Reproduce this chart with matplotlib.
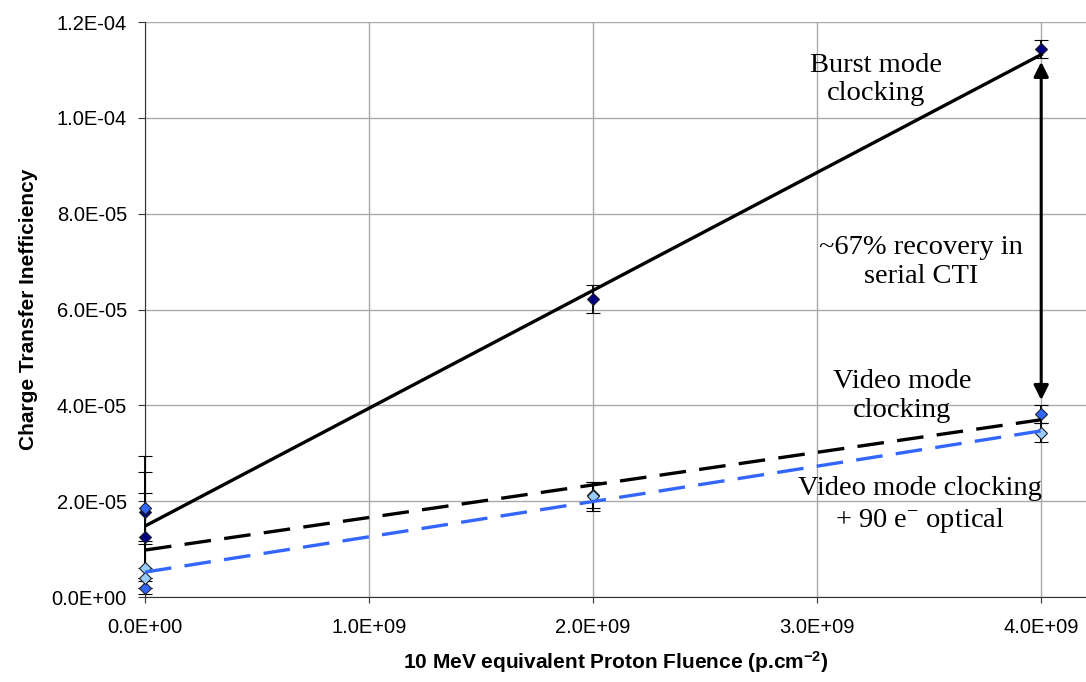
import matplotlib
matplotlib.use('Agg')
import matplotlib.pyplot as plt
import numpy as np
from matplotlib.ticker import FuncFormatter, MultipleLocator

plt.rcParams['font.family'] = ['Liberation Sans', 'DejaVu Sans']
plt.rcParams['mathtext.default'] = 'regular'

# measured CTI values (fluence in p/cm^2)
burst_x = [0, 0, 2e9, 4e9]
burst_y = [1.77e-5, 1.25e-5, 6.22e-5, 1.144e-4]
burst_err = [1.17e-5, 0.92e-5, 0.29e-5, 0.19e-5]

video_x = [0, 0, 2e9, 4e9]
video_y = [1.86e-5, 0.19e-5, 2.13e-5, 3.82e-5]
video_err = [0.75e-5, 0.0, 0.28e-5, 0.18e-5]

optical_x = [0, 0, 2e9, 4e9]
optical_y = [0.61e-5, 0.40e-5, 2.10e-5, 3.43e-5]
optical_err = [0.55e-5, 0.0, 0.30e-5, 0.20e-5]

# linear trend lines (slope, intercept) as shown on the chart
burst_fit = [2.46e-14, 1.48e-5]
video_fit = [6.8e-15, 0.98e-5]
optical_fit = [7.37e-15, 0.52e-5]
fit_range = [0, 4e9]

fig = plt.figure(figsize=(10.86, 6.82), dpi=100)
ax = fig.add_axes([0.1335, 0.1246, 0.8665, 0.8431])

def plot_series(x, y, err, face):
    cont = ax.errorbar(x, y, yerr=err, fmt='D', color='black', ecolor='black', elinewidth=1.3,
                       capsize=5, capthick=1.3, markersize=6, markerfacecolor=face,
                       markeredgecolor='#222222', markeredgewidth=0.8, zorder=3)
    for art in cont.get_children():
        art.set_clip_on(False)

plot_series(burst_x, burst_y, burst_err, '#000080')
plot_series(video_x, video_y, video_err, '#3366FF')
plot_series(optical_x, optical_y, optical_err, '#99CCFF')

xs = np.array(fit_range)
ax.plot(xs, np.polyval(burst_fit, xs), color='black', lw=2.4, zorder=4)
ax.plot(xs, np.polyval(video_fit, xs), color='black', lw=2.4, ls=(0, (8, 4)), zorder=4)
ax.plot(xs, np.polyval(optical_fit, xs), color='#3366FF', lw=2.4, ls=(0, (8, 4)), zorder=4)

ax.annotate('', xy=(4e9, 1.117e-4), xytext=(4e9, 4.11e-5),
            arrowprops=dict(arrowstyle='<|-|>', color='black', lw=2.2, mutation_scale=22,
                            shrinkA=0, shrinkB=0), zorder=5)

serif = ['Liberation Serif', 'DejaVu Serif']
notes = dict(family=serif, fontsize=20.5, ha='center', va='center', linespacing=1.2)
ax.text(3.264e9, 1.08e-4, 'Burst mode\nclocking', **notes)
ax.text(3.465e9, 7.0e-5, '~67% recovery in\nserial CTI', **notes)
ax.text(3.38e9, 4.20e-5, 'Video mode\nclocking', **notes)
ax.text(3.46e9, 1.91e-5, 'Video mode clocking\n+ 90 e$^{-}$ optical', **notes)

ax.set_xlim(0, 4.2e9)
ax.set_ylim(0, 1.2e-4)
ax.xaxis.set_major_locator(MultipleLocator(1e9))
ax.yaxis.set_major_locator(MultipleLocator(2e-5))
sci = FuncFormatter(lambda v, pos: f'{v:.1E}')
ax.xaxis.set_major_formatter(sci)
ax.yaxis.set_major_formatter(sci)
ax.grid(True, color='#aaaaaa', lw=1)
ax.set_axisbelow(True)
for s in ['top', 'right']:
    ax.spines[s].set_visible(False)
for s in ['left', 'bottom']:
    ax.spines[s].set_color('#333333')
ax.tick_params(axis='y', direction='out', length=5, color='#333333', labelsize=14.5, pad=8)
ax.tick_params(axis='x', direction='out', length=4, color='#333333', labelsize=14.5, pad=11)

ax.set_ylabel('Charge Transfer Inefficiency', fontsize=15, fontweight='bold', labelpad=10)
ax.set_xlabel('10 MeV equivalent Proton Fluence (p.cm$^{-2}$)', fontsize=15,
              fontweight='bold', labelpad=9)

fig.savefig('out.png', dpi=100)
